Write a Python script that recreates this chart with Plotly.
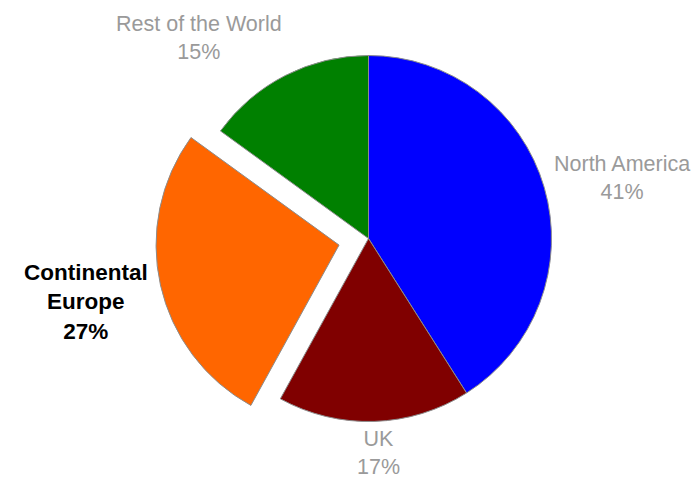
import plotly.graph_objects as go

# Revenue share by region
regions = ["North America", "UK", "Continental Europe", "Rest of the World"]
shares = [41, 17, 27, 15]
slice_colors = ["#0000FF", "#800000", "#FF6600", "#008000"]
pulls = [0, 0, 0.165, 0]

W, H = 691, 482
cx, cy = 368.5, 238.5          # pie centre in pixels
radius = 183.0                  # pie radius in pixels
half = radius * (1 + max(pulls))

fig = go.Figure(
    go.Pie(
        labels=regions,
        values=shares,
        sort=False,
        direction="clockwise",
        rotation=0,
        pull=pulls,
        marker=dict(colors=slice_colors, line=dict(color="#8c8c8c", width=1)),
        textinfo="none",
        hoverinfo="label+percent",
        showlegend=False,
        domain=dict(
            x=[(cx - half) / W, (cx + half) / W],
            y=[(H - cy - half) / H, (H - cy + half) / H],
        ),
    )
)

# Category labels placed around the pie
label_pos = {
    "North America": (622, 178),
    "UK": (378, 453),
    "Continental Europe": (86, 302),
    "Rest of the World": (199, 38),
}
for name, val in zip(regions, shares):
    x, y = label_pos[name]
    bold = name == "Continental Europe"
    text = ("Continental<br>Europe" if bold else name) + f"<br>{val}%"
    if bold:
        text = f"<b>{text}</b>"
    fig.add_annotation(
        x=x / W, y=1 - y / H, xref="paper", yref="paper",
        text=text, showarrow=False, align="center",
        xanchor="center", yanchor="middle",
        font=dict(family="Liberation Sans, Arial, sans-serif",
                  size=22.5 if bold else 21.5,
                  color="#000000" if bold else "#9a9a9a"),
    )

fig.update_layout(
    width=W, height=H,
    margin=dict(l=0, r=0, t=0, b=0),
    paper_bgcolor="white",
    plot_bgcolor="white",
)

fig.write_html("out.html")
